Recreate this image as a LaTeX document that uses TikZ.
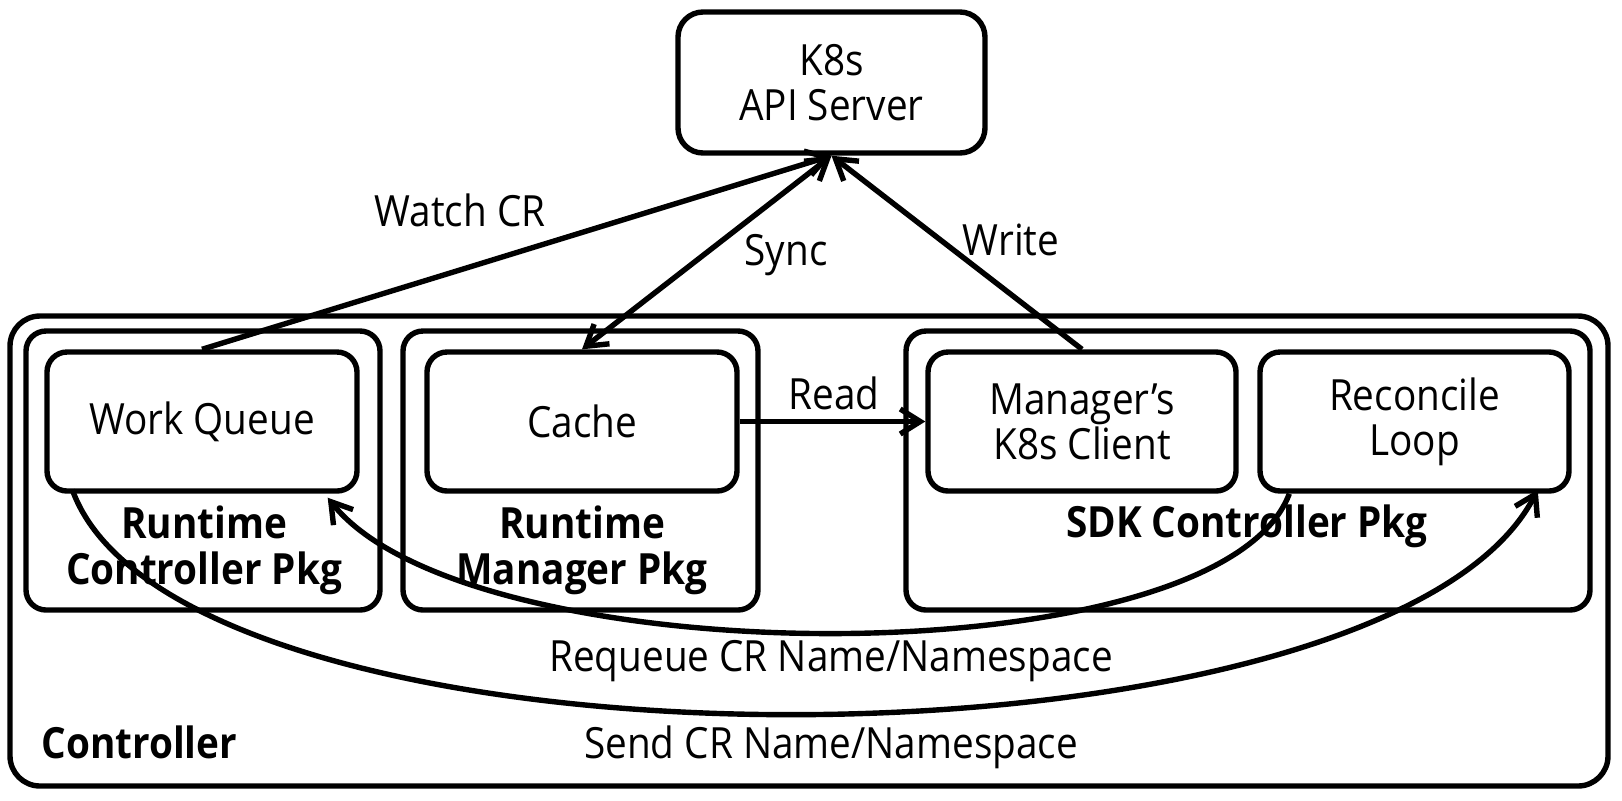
\documentclass[tikz,border=0pt]{standalone}
\usepackage{fontspec}
\setmainfont{Open Sans}[FakeStretch=0.9]
\usetikzlibrary{arrows.meta,calc}
\begin{document}
\begin{tikzpicture}[x=0.5pt,y=-0.5pt,
  every node/.style={inner sep=0pt, align=center, font=\fontsize{21.5}{22.5}\selectfont},
  box/.style={draw, line width=2.7pt, rounded corners=10pt, minimum height=69.5pt, minimum width=#1},
  pkg/.style={draw, line width=2.7pt, rounded corners=10pt, minimum height=139.5pt, minimum width=#1},
  pkglabel/.style={font=\fontsize{21.5}{23}\selectfont\bfseries},
  lbl/.style={font=\fontsize{21.5}{22.5}\selectfont},
  conn/.style={line width=2.7pt},
  tip/.style={-{Straight Barb[length=10pt,width=12.5pt]}},
  bitip/.style={{Straight Barb[length=10pt,width=12.5pt]}-{Straight Barb[length=10pt,width=12.5pt]}}
]
\useasboundingbox (0,0) rectangle (1622,800);

% outer controller frame
\node[draw, line width=2.7pt, rounded corners=15pt, minimum width=799pt, minimum height=235pt] (ctrl) at (809,551) {};
\node[font=\fontsize{21.5}{22.5}\selectfont\bfseries, anchor=west] (ctrllbl) at (41,742) {Controller};

% API server
\node[draw, line width=2.7pt, rounded corners=12.5pt, minimum width=153.5pt, minimum height=70.5pt] (api) at (831.5,82.5) {K8s\\API Server};

% packages
\node[pkg=177pt] (rcp) at (203,470.5) {};
\node[pkg=177.5pt] (rmp) at (580.5,470.5) {};
\node[pkg=342pt] (sdk) at (1248,470.5) {};

\node[pkglabel] (rcplbl) at (204,550) {Runtime\\Controller Pkg};
\node[pkglabel] (rmplbl) at (582,550) {Runtime\\Manager Pkg};
\node[pkglabel] (sdklbl) at (1247,526) {SDK Controller Pkg};

% components
\node[box=155pt] (wq) at (202,421.5) {Work Queue};
\node[box=155pt] (cache) at (582,421.5) {Cache};
\node[box=154pt] (client) at (1082,421.5) {Manager’s\\K8s Client};
\node[box=154.5pt] (rec) at (1414.5,421.5) {Reconcile\\Loop};

% connectors to the API server
\draw[conn, tip] (wq.north) -- (api.south);
\draw[conn, bitip] (api.south) -- (cache.north);
\draw[conn, tip] (client.north) -- (api.south);
\draw[conn, tip] (cache.east) -- (client.west);

\node[lbl] (watchlbl) at (460,210) {Watch CR};
\node[lbl] (synclbl) at (786,255) {Sync};
\node[lbl] (writelbl) at (1011,240) {Write};
\node[lbl] (readlbl) at (834,393) {Read};

% loop between work queue and reconcile loop
\coordinate (sendstart) at ($(wq.south west)+(28,-4)$);
\coordinate (sendend) at ($(rec.south east)+(-34,-4)$);
\coordinate (reqstart) at ($(rec.south west)+(32,0)$);
\coordinate (reqend) at ($(wq.south east)+(-32,4)$);

\draw[conn, tip] (sendstart) .. controls (180,790) and (1385,787) .. (sendend);
\draw[conn, tip] (reqstart) .. controls (1220,680) and (470,677) .. (reqend);

\node[lbl] (reqlbl) at (831,661) {Requeue CR Name/Namespace};
\node[lbl] (sendlbl) at (831,747) {Send CR Name/Namespace};
\end{tikzpicture}
\end{document}
